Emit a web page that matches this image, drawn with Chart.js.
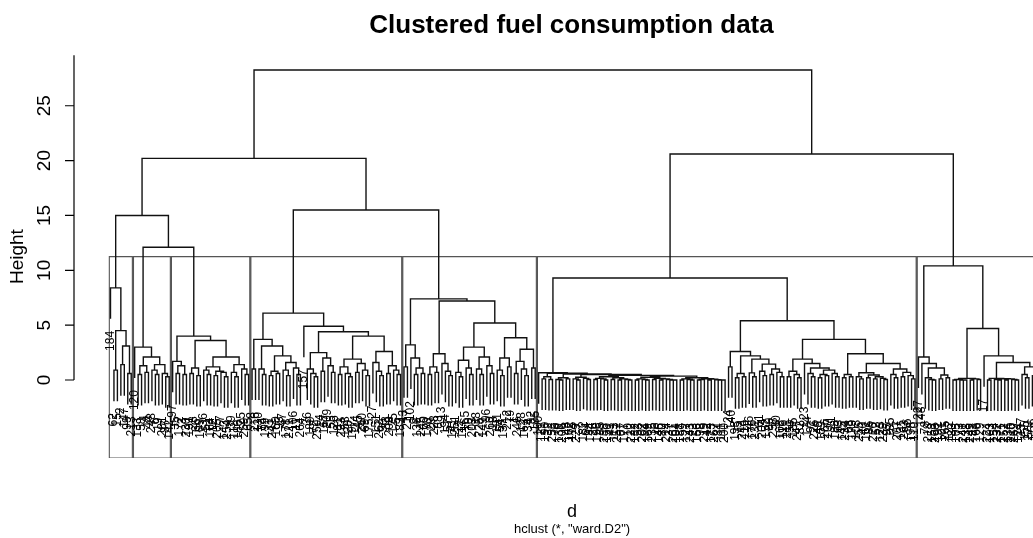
<!DOCTYPE html>
<html>
<head>
<meta charset="utf-8">
<title>Clustered fuel consumption data</title>
<script src="https://cdn.jsdelivr.net/npm/chart.js@4/dist/chart.umd.min.js"></script>
<style>
  html, body { margin: 0; padding: 0; background: #fff; overflow: hidden; }
  #wrap { width: 1033px; height: 538px; overflow: hidden; }
</style>
</head>
<body>
<div id="wrap"><canvas id="dendro" width="1144" height="538"></canvas></div>
<script>
// ward.D2 tree, one array per cluster of the k = 7 cut.
// a node is [height, left, right], a leaf is the observation number
const cluster1 = [8.4, 184, [4.5, [0.9, 62, 15], [3.1, [1.4, 2, 147], [0.6, 99, 213]]]];

const cluster2 = [3.0, 120, [2.1, [1.3, [0.5, 133, 58], [0.7, 4, 44]],
  [1.4, [0.9, 248, [0.5, 6, 19]], [0.6, 201, [0.3, 87, 142]]]]];

const cluster3 = [4.0,
  [1.7, 97, [1.3, [0.6, 35, 172], [0.5, 3, 230]]],
  [3.6, [1.1, [0.6, 191, 28], [0.4, 66, 109]],
    [2.1, [1.2, [0.9, 236, [0.5, 51, 164]], [0.8, [0.4, 12, 205], [0.7, 77, [0.3, 143, 254]]]],
      [1.4, [0.7, 39, [0.3, 118, 186]], [1.0, 25, [0.5, 259, 65]]]]]];

const cluster4 = [6.1,
  [3.7, [1.0, 8, 216],
    [3.1, [1.0, 130, [0.5, 74, 199]],
      [2.2, [0.8, [0.4, 31, 242], [0.6, 160, 93]],
        [1.6, [0.9, 47, [0.4, 178, 221]], [1.1, 106, [0.5, 11, 264]]]]]],
  [4.9, 157,
    [4.4,
      [2.5, [1.0, 36, [0.6, 189, [0.3, 72, 250]]], [2.0, [0.8, 14, 167], [1.3, 209, [0.7, 55, 126]]]],
      [4.0,
        [1.9, [1.2, [0.5, 81, 233], [0.6, 158, [0.3, 20, 197]]], [1.5, [0.7, 114, 45], [0.9, 240, [0.4, 69, 175]]]],
        [2.6, [1.6, 27, [0.8, 151, [0.4, 262, 90]]], [1.3, [0.6, 33, 208], [0.9, 125, [0.5, 5, 183]]]]]]]];

const cluster5 = [7.4,
  [3.2, [1.2, 43, 217], [2.0, 102, [1.1, [0.5, 9, 136], [0.6, 245, 60]]]],
  [7.2,
    [2.4, [1.2, [0.5, 170, 29], [0.7, 228, 88]], [1.5, 13, [0.8, 194, [0.4, 57, 141]]]],
    [5.2,
      [3.0, [1.8, [0.7, 251, [0.3, 22, 117]], [1.1, 165, [0.5, 70, 203]]],
        [2.1, [1.0, 38, [0.5, 225, 149]], [1.3, 96, [0.6, 260, 18]]]],
      [3.85, [2.0, [0.9, 181, [0.4, 54, 137]], [1.2, 212, 79]],
        [2.8, [1.7, [0.6, 1, 246], [1.0, 128, [0.4, 163, 34]]], [1.1, 92, 195]]]]]];

const cluster6 = [9.3,
  [0.66, 100,
    [0.62, [0.3, [0.1, 121, 190], [0.05, 32, 253]],
      [0.55, [0.2, [0.05, 76, [0, 139, 206]], [0.1, 48, 162]],
        [0.5, [0.25, [0.1, 115, [0, 229, 7]], [0.15, 182, [0.05, 64, 144]]],
          [0.42, [0.3, [0.15, [0.05, 26, 196], [0.1, 85, [0, 238, 150]]],
                       [0.2, [0.05, 41, 113], [0.1, [0, 257, 67], [0.05, 177, [0, 10, 222]]]]],
            [0.35,
              [0.25, [0.1, [0, 132, 53], [0.05, 202, [0, 94, 169]]],
                     [0.15, [0.05, 235, 16], [0.1, [0, 146, 80], [0.05, 214, [0, 37, [0, 261, 104]]]]]],
              [0.2, [0.1, [0, 187, 59], [0.05, 127, [0, 243, 23]]],
                    [0.12, [0.05, [0, 156, 98], 219], [0.08, [0, 42, 173], [0.03, 267, [0, 84, [0, 111, 200]]]]]]]]]]]],
  [5.4,
    [2.6, [1.2, 24, 140],
      [2.2, [0.6, [0.2, 193, 75], [0.3, 244, 119]],
        [1.9, [0.65, 46, [0.3, 176, 231]],
          [1.45, [0.8, 61, [0.4, 204, 152]], [1.0, [0.5, 89, 258], [0.7, 30, [0.3, 168, 116]]]]]]],
    [3.7,
      [1.9, [0.8, [0.3, 211, 50], [0.5, 135, [0.2, 247, 82]]],
        [1.5, 223, [1.1, [0.6, 174, [0.3, 91, 226]],
          [0.9, [0.5, [0.2, 49, 159], [0.4, 266, 107]], [0.6, 21, [0.3, 188, 63]]]]]],
      [2.4, [0.5, [0.2, 145, 234], [0.3, 68, 179]],
        [1.5,
          [0.66, [0.3, 108, [0.1, 255, 40]], [0.45, [0.2, 161, 86], [0.3, [0.1, 220, 52], [0.15, 123, [0.05, 239, 95]]]]],
          [1.0, [0.5, 185, [0.2, 71, 207]], [0.7, [0.3, 131, 263], [0.4, 56, [0.1, 198, 110]]]]]]]]];

const cluster7 = [10.4,
  [2.1, 227, [1.5, 148, [1.1, [0.2, 78, [0.05, 218, [0, 153, 268]]], [0.45, [0.1, 192, 101], [0.2, 265, 122]]]]],
  [4.7,
    [0.15, [0.05, [0, 180, 105], [0, 73, [0, 241, 138]]], [0.1, [0, 249, 83], [0.05, 166, 129]]],
    [2.2, 17,
      [1.6,
        [0.15, [0, 224, 103], [0.12, [0.05, 154, [0, 232, 171]], [0.1, [0, 252, 134], [0.05, 210, [0, 269, 124]]]]],
        [1.2, [0.5, 237, [0.2, 155, 270]], [0.4, 256, [0.1, 112, 215]]]]]]];

const clusters = [cluster1, cluster2, cluster3, cluster4, cluster5, cluster6, cluster7];
const upperTree = [28.26,
  [20.2, [15.0, cluster1, [12.1, cluster2, cluster3]], [15.5, cluster4, cluster5]],
  [20.6, cluster6, cluster7]];

const yTicks = [0, 5, 10, 15, 20, 25];
const hangFraction = 0.1;

const FONT = "'Liberation Sans', Arial, Helvetica, sans-serif";
const hang = hangFraction * upperTree[0];

// walk the tree: leaves get 1..n in order, a node sits midway between its children
const leaves = [];
const treePoints = [];
const heights = [];

function place(node) {
  if (!Array.isArray(node)) {
    const leaf = { x: leaves.length + 1, label: node, y: 0 };
    leaves.push(leaf);
    return { x: leaf.x, leaf: leaf };
  }
  const [h, a, b] = node;
  heights.push(h);
  const l = place(a);
  const r = place(b);
  const yl = l.leaf ? h - hang : l.h;
  const yr = r.leaf ? h - hang : r.h;
  if (l.leaf) l.leaf.y = yl;
  if (r.leaf) r.leaf.y = yr;
  treePoints.push({ x: l.x, y: yl }, { x: l.x, y: h }, { x: r.x, y: h }, { x: r.x, y: yr }, { x: r.x, y: null });
  return { x: (l.x + r.x) / 2, h: h };
}
place(upperTree);

function countLeaves(node) {
  return Array.isArray(node) ? countLeaves(node[1]) + countLeaves(node[2]) : 1;
}

const yMin = -7.11, yMax = 29.61;

// rect.hclust style boxes round the k clusters
const k = clusters.length;
const sorted = heights.slice().sort((a, b) => b - a);
const cutHeight = (sorted[k - 2] + sorted[k - 1]) / 2;
const boxPoints = [];
let done = 0;
clusters.forEach(c => {
  const n = countLeaves(c);
  const xl = done + 0.66, xr = done + n + 0.33;
  boxPoints.push({ x: xl, y: yMin }, { x: xl, y: cutHeight }, { x: xr, y: cutHeight },
                 { x: xr, y: yMin }, { x: xl, y: yMin }, { x: xl, y: null });
  done += n;
});

const rAxes = {
  id: 'rAxes',
  afterDatasetsDraw(chart) {
    const { ctx, chartArea, scales: { x, y } } = chart;
    ctx.save();

    // leaf labels, turned 90 degrees and hanging under each leaf
    const gap = 12;
    ctx.fillStyle = '#000';
    ctx.font = '12px ' + FONT;
    ctx.textAlign = 'right';
    ctx.textBaseline = 'middle';
    leaves.forEach(lf => {
      ctx.save();
      ctx.translate(x.getPixelForValue(lf.x), y.getPixelForValue(lf.y) + gap);
      ctx.rotate(-Math.PI / 2);
      ctx.fillText(String(lf.label), 0, 0);
      ctx.restore();
    });

    // y axis
    const ax = chartArea.left;
    ctx.strokeStyle = '#000';
    ctx.lineWidth = 1.2;
    ctx.beginPath();
    ctx.moveTo(ax, y.getPixelForValue(0));
    ctx.lineTo(ax, chartArea.top);
    yTicks.forEach(v => {
      const py = y.getPixelForValue(v);
      ctx.moveTo(ax, py);
      ctx.lineTo(ax - 9, py);
    });
    ctx.stroke();

    ctx.font = '19px ' + FONT;
    ctx.textAlign = 'center';
    yTicks.forEach(v => {
      ctx.save();
      ctx.translate(45, y.getPixelForValue(v));
      ctx.rotate(-Math.PI / 2);
      ctx.fillText(String(v), 0, 0);
      ctx.restore();
    });
    ctx.save();
    ctx.translate(18, (chartArea.top + chartArea.bottom) / 2);
    ctx.rotate(-Math.PI / 2);
    ctx.fillText('Height', 0, 0);
    ctx.restore();

    // x label and method line under the plot
    const cx = chart.width / 2;
    ctx.font = '18px ' + FONT;
    ctx.fillText('d', cx, 512);
    ctx.font = '13px ' + FONT;
    ctx.fillText('hclust (*, "ward.D2")', cx, 529);
    ctx.restore();
  }
};

new Chart(document.getElementById('dendro'), {
  type: 'line',
  data: {
    datasets: [
      {
        data: treePoints,
        borderColor: '#111',
        borderWidth: 1.4,
        pointRadius: 0,
        tension: 0,
        spanGaps: false,
        fill: false
      },
      {
        data: boxPoints,
        borderColor: '#555',
        borderWidth: 1.1,
        pointRadius: 0,
        tension: 0,
        spanGaps: false,
        fill: false
      }
    ]
  },
  options: {
    responsive: false,
    animation: false,
    events: [],
    layout: { padding: { left: 74, right: 75, top: 0, bottom: 80 } },
    scales: {
      x: { type: 'linear', min: -9.57, max: 278.6, display: false },
      y: { type: 'linear', min: yMin, max: yMax, display: false }
    },
    plugins: {
      legend: { display: false },
      tooltip: { enabled: false },
      title: {
        display: true,
        text: 'Clustered fuel consumption data',
        color: '#000',
        font: { family: FONT, size: 26, weight: 'bold' },
        padding: { top: 10, bottom: 14 }
      }
    }
  },
  plugins: [rAxes]
});
</script>
</body>
</html>
